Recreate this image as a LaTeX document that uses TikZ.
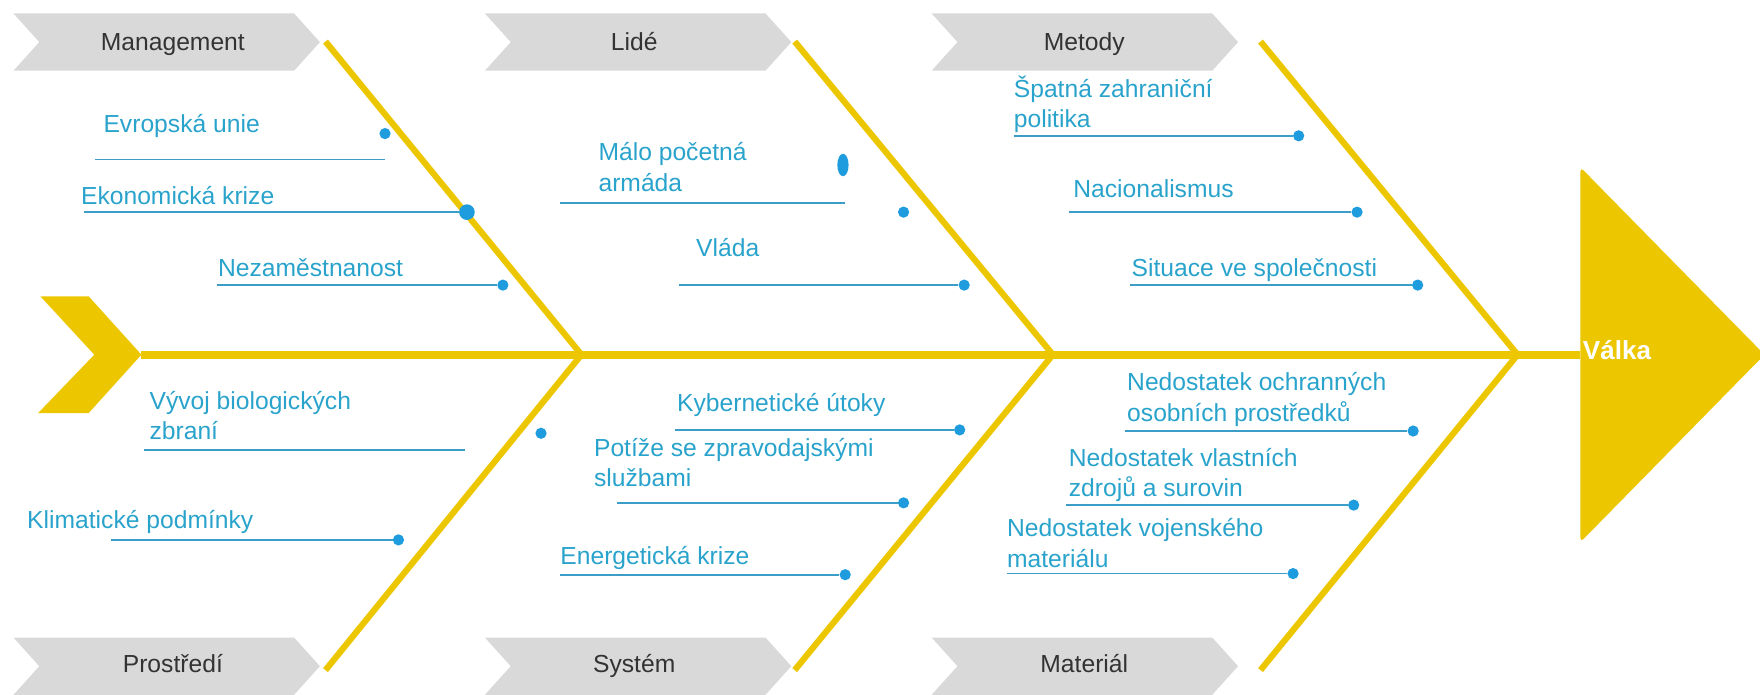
\documentclass[tikz,border=0pt]{standalone}
\usepackage{fontspec}
\setmainfont{Liberation Sans}
\usepackage{tikz}
\usetikzlibrary{positioning, shapes.geometric}
\definecolor{bonecol}{RGB}{236,199,0}
\definecolor{bannercol}{RGB}{217,217,217}
\definecolor{cattext}{RGB}{51,51,51}
\definecolor{causetext}{RGB}{41,163,204}
\definecolor{causeline}{RGB}{60,158,198}
\definecolor{dotcol}{RGB}{30,156,222}

\begin{document}
\begin{tikzpicture}[x=0.028cm, y=-0.028cm,
	bone/.style={draw=bonecol, line width=4.4pt, line join=miter},
	spine/.style={draw=bonecol, line width=5.6pt},
	banner/.style={fill=bannercol},
	cat/.style={anchor=base, inner sep=0pt, text=cattext, font=\fontsize{17.5}{21.5}\selectfont},
	cause/.style={anchor=south west, inner sep=0pt, text depth=0pt, align=left, text=causetext, font=\fontsize{17.5}{21.5}\selectfont},
	cline/.style={draw=causeline, line width=1.2pt},
	dot/.style={circle, fill=dotcol, inner sep=0pt, minimum size=0.28cm}]
		\useasboundingbox (0,0) rectangle (1568,619);
		\foreach \x in {12,432,830}
			\foreach \y in {12,568}
				\fill[banner] (\x,\y) -- ++(250,0) -- ++(23,25.5) -- ++(-23,25.5) -- ++(-250,0) -- ++(23,-25.5) -- cycle;
		\fill[bonecol] (36,264) -- (79,264) -- (126,316) -- (79,368) -- (34,368) -- (84,316) -- cycle;
		\fill[bonecol, rounded corners=3pt] (1408,149) -- (1572,316) -- (1408,483) -- cycle;
		\coordinate (tail) at (126,316);
		\coordinate (head) at (1408,316);
		\draw[spine] (tail) -- (head);
		\foreach \i/\u/\j in {1/290/518, 2/708/938, 3/1123/1352} {
			\coordinate (u-\i) at (\u,37);
			\coordinate (j-\i) at (\j,316);
			\coordinate (w-\i) at (\u,597);
			\draw[bone] (u-\i) -- (j-\i) -- (w-\i);
		}
		
		\node[cat] (b-1) at (154,45) {Management};
		\node[cat] (b-2) at (565,45) {Lidé};
		\node[cat] (b-3) at (966,45) {Metody};
		\node[cat] (b-4) at (154,599) {Prostředí};
		\node[cat] (b-5) at (565,599) {Systém};
		\node[cat] (b-6) at (966,599) {Materiál};
		\node[anchor=base west, inner sep=0pt, text=white, font=\fontsize{18.5}{22}\selectfont\bfseries] (valka) at (1410,320) {Válka};
		
		\foreach \n/\a/\b/\y in {1-3/193/448/254, 2-2/605/859/254, 3-1/903/1157/121, 3-2/952/1209/189, 3-3/1007/1263/254, 4-2/99/355/481, 5-1/601/855/383, 5-2/550/805/448, 5-3/499/753/512, 6-1/1002/1259/384, 6-2/950/1206/450, 6-3/897/1152/511} {
			\coordinate (s-\n) at (\a,\y);
			\node[dot] (d-\n) at (\b,\y) {};
			\draw[cline] (s-\n) -- (d-\n);
		}
		\coordinate (s-1-1) at (85,142);
		\coordinate (e-1-1) at (343,142);
		\draw[cline] (s-1-1) -- (e-1-1);
		\node[dot] (d-1-1) at (343,119) {};
		\coordinate (s-1-2) at (75,189);
		\node[dot, minimum size=0.39cm] (d-1-2) at (416,189) {};
		\draw[cline] (s-1-2) -- (d-1-2);
		\coordinate (s-2-1) at (499,181);
		\coordinate (e-2-1) at (753,181);
		\draw[cline] (s-2-1) -- (e-2-1);
		\node[dot, ellipse, minimum width=0.28cm, minimum height=0.56cm] (d-2-1) at (751,147) {};
		\node[dot] (d-2-3) at (805,189) {};
		\coordinate (s-4-1) at (128,401);
		\coordinate (e-4-1) at (414,401);
		\draw[cline] (s-4-1) -- (e-4-1);
		\node[dot] (d-4-1) at (482,386) {};
		
		\node[cause] (t-1-1) at (92,118.5) {Evropská unie};
		\node[cause] (t-1-2) at (72,182.5) {Ekonomická krize};
		\node[cause] (t-1-3) at (194,246.5) {Nezaměstnanost};
		\node[cause] (t-2-1) at (533,170.5) {Málo početná\\armáda};
		\node[cause] (t-2-2) at (620,228.5) {Vláda};
		\node[cause] (t-3-1) at (903,114) {Špatná zahraniční\\politika};
		\node[cause] (t-3-2) at (956,176) {Nacionalismus};
		\node[cause] (t-3-3) at (1008,246.5) {Situace ve společnosti};
		\node[cause] (t-4-1) at (133,392) {Vývoj biologických\\zbraní};
		\node[cause] (t-4-2) at (24,471.5) {Klimatické podmínky};
		\node[cause] (t-5-1) at (603,366.5) {Kybernetické útoky};
		\node[cause] (t-5-2) at (529,433.5) {Potíže se zpravodajskými\\službami};
		\node[cause] (t-5-3) at (499,503) {Energetická krize};
		\node[cause] (t-6-1) at (1004,375.5) {Nedostatek ochranných\\osobních prostředků};
		\node[cause] (t-6-2) at (952,442.5) {Nedostatek vlastních\\zdrojů a surovin};
		\node[cause] (t-6-3) at (897,505.5) {Nedostatek vojenského\\materiálu};
\end{tikzpicture}
\end{document}
